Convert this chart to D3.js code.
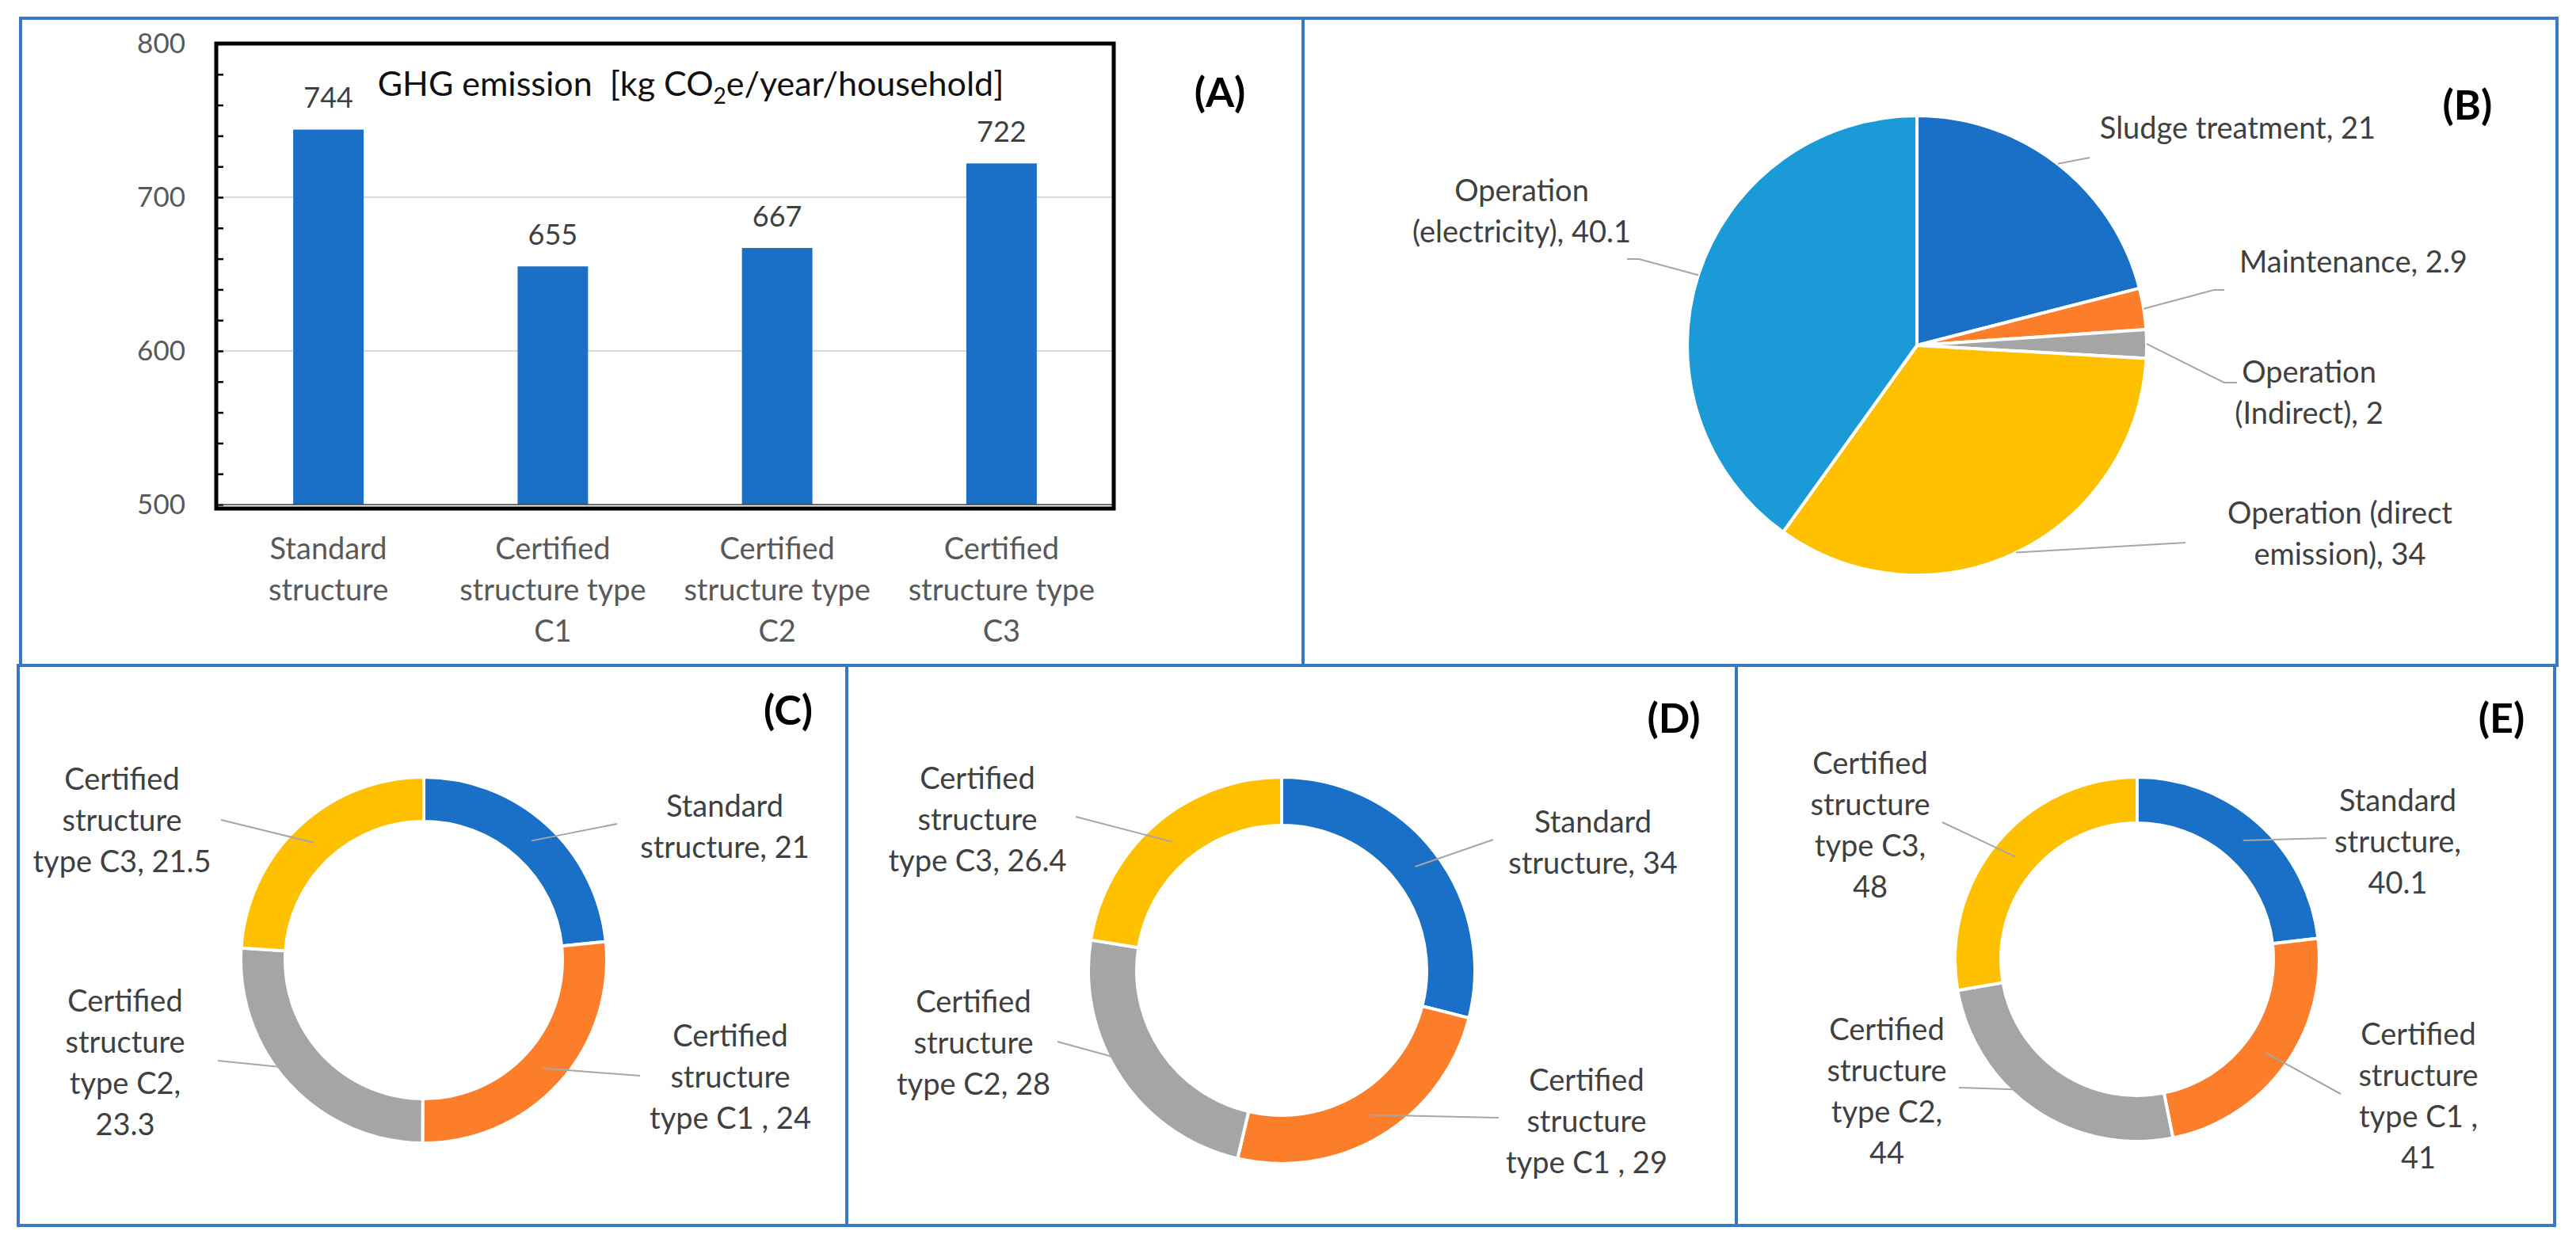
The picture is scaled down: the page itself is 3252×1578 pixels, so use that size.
<!DOCTYPE html>
<html>
<head>
<meta charset="utf-8">
<script src="https://cdn.jsdelivr.net/npm/d3@7"></script>
<style>
  html, body { margin: 0; padding: 0; background: #fff; }
  svg text { font-family: Lato, "Open Sans", sans-serif; }
</style>
</head>
<body>
<svg id="fig" width="3252" height="1578"></svg>
<script>
// ---- data ----
// (A) bar chart
var barCategories = ["Standard structure", "Certified structure type C1", "Certified structure type C2", "Certified structure type C3"];
var barValues = [744, 655, 667, 722];
var yTickValues = [500, 600, 700, 800];

// (B) pie
var pieCategories = ["Sludge treatment", "Maintenance", "Operation (Indirect)", "Operation (direct emission)", "Operation (electricity)"];
var pieValues = [21, 2.9, 2, 34, 40.1];

// (C), (D), (E) donuts
var structureNames = ["Standard structure", "Certified structure type C1 ", "Certified structure type C2", "Certified structure type C3"];
var donutC = [21, 24, 23.3, 21.5];
var donutD = [34, 29, 28, 26.4];
var donutE = [40.1, 41, 44, 48];

// ---- colours ----
var blue = "#1A6FC6", orange = "#FC7D2A", gray = "#A5A5A5", gold = "#FFC000", skyblue = "#1A9BD8";
var pieColors = [blue, orange, gray, gold, skyblue];
var donutColors = [blue, orange, gray, gold];
var frameColor = "#3B78C3", leaderColor = "#A6A6A6", labelColor = "#404040";

var svg = d3.select("#fig");

/* panel frames */
var panels = [
  {x0: 26, y0: 23, x1: 1645, y1: 840},
  {x0: 1645, y0: 23, x1: 3228, y1: 840},
  {x0: 23, y0: 840, x1: 1069, y1: 1547},
  {x0: 1069, y0: 840, x1: 2192, y1: 1547},
  {x0: 2192, y0: 840, x1: 3225, y1: 1547}
];
svg.append("g").selectAll("rect")
  .data(panels)
  .enter().append("rect")
    .attr("x", function(d) { return d.x0; })
    .attr("y", function(d) { return d.y0; })
    .attr("width", function(d) { return d.x1 - d.x0; })
    .attr("height", function(d) { return d.y1 - d.y0; })
    .attr("fill", "none")
    .attr("stroke", frameColor)
    .attr("stroke-width", 4);

/* multi-line text, words split per line by counts */
function multiLine(g, text, counts, x, y, lh, size, color) {
  var words = text.split(" "), lines = [], k = 0;
  counts.forEach(function(c) { lines.push(words.slice(k, k + c).join(" ")); k += c; });
  var t = g.append("text")
      .attr("text-anchor", "middle")
      .attr("fill", color)
      .attr("font-size", size);
  lines.forEach(function(l, i) {
    t.append("tspan").attr("x", x).attr("y", y + i * lh).attr("dy", "0.35em").text(l);
  });
  return t;
}

function panelTag(txt, x, y) {
  svg.append("text")
    .attr("x", x).attr("y", y).attr("dy", "0.35em")
    .attr("text-anchor", "middle")
    .attr("font-size", 52).attr("font-weight", "bold")
    .attr("fill", "#000")
    .text(txt);
}

/* ---------- (A) bar chart ---------- */
var plot = {left: 273, right: 1406, top: 55, bottom: 637, border: 642};

var x = d3.scaleBand()
    .domain(barCategories)
    .range([plot.left, plot.right])
    .paddingInner(0.686)
    .paddingOuter(0.343);

var y = d3.scaleLinear()
    .domain([500, 800])
    .range([plot.bottom, plot.top]);

var gA = svg.append("g");

// gridlines
gA.append("g").selectAll("line")
  .data(yTickValues.slice(1, -1))
  .enter().append("line")
    .attr("x1", plot.left).attr("x2", plot.right)
    .attr("y1", function(d) { return y(d); })
    .attr("y2", function(d) { return y(d); })
    .attr("stroke", "#D9D9D9").attr("stroke-width", 2);

// bars
gA.append("g").selectAll("rect")
  .data(barValues)
  .enter().append("rect")
    .attr("x", function(d, i) { return x(barCategories[i]); })
    .attr("y", function(d) { return y(d); })
    .attr("width", x.bandwidth())
    .attr("height", function(d) { return y(500) - y(d); })
    .attr("fill", blue);

// value labels
gA.append("g").selectAll("text")
  .data(barValues)
  .enter().append("text")
    .attr("x", function(d, i) { return x(barCategories[i]) + x.bandwidth() / 2; })
    .attr("y", function(d) { return y(d) - 40; })
    .attr("dy", "0.35em")
    .attr("text-anchor", "middle")
    .attr("font-size", 36)
    .attr("fill", labelColor)
    .text(function(d) { return d; });

// minor ticks (inside), every 20
gA.append("g")
    .attr("transform", "translate(" + plot.left + ",0)")
    .call(d3.axisRight(y).ticks(15).tickSize(9).tickFormat(""))
    .call(function(g) { g.select(".domain").remove(); })
    .selectAll("line").attr("stroke", "#000").attr("stroke-width", 2.5);

// y labels
var yAxis = gA.append("g")
    .attr("transform", "translate(" + plot.left + ",0)")
    .call(d3.axisLeft(y).tickValues(yTickValues).tickSize(0).tickPadding(39));
yAxis.select(".domain").remove();
yAxis.selectAll("text")
    .attr("font-family", null)
    .attr("font-size", 35)
    .attr("fill", "#595959");

// x axis line and category labels
gA.append("line")
    .attr("x1", plot.left).attr("x2", plot.right)
    .attr("y1", plot.bottom).attr("y2", plot.bottom)
    .attr("stroke", "#404040").attr("stroke-width", 1.5);

var xWraps = [[1, 1], [1, 2, 1], [1, 2, 1], [1, 2, 1]];
barCategories.forEach(function(c, i) {
  multiLine(gA, c, xWraps[i], x(c) + x.bandwidth() / 2, 693, 52, 38, "#595959");
});

// plot area border
gA.append("rect")
    .attr("x", plot.left).attr("y", plot.top)
    .attr("width", plot.right - plot.left)
    .attr("height", plot.border - plot.top)
    .attr("fill", "none")
    .attr("stroke", "#000").attr("stroke-width", 5);

// title
var title = gA.append("text")
    .attr("x", 872).attr("y", 106).attr("dy", "0.35em")
    .attr("text-anchor", "middle")
    .attr("font-size", 43)
    .attr("fill", "#111")
    .style("white-space", "pre");
title.append("tspan").text("GHG emission  [kg CO");
title.append("tspan").attr("font-size", 28).attr("dy", 10).text("2");
title.append("tspan").attr("dy", -10).text("e/year/household]");

panelTag("(A)", 1540, 117);

/* ---------- pies / donuts ---------- */
function drawPie(cfg, names, values, colors) {
  var g = svg.append("g").attr("transform", "translate(" + cfg.cx + "," + cfg.cy + ")");
  var arcs = d3.pie().sort(null).value(function(d) { return d; })(values);
  var arc = d3.arc().innerRadius(cfg.r0).outerRadius(cfg.r1);

  g.selectAll("path.slice")
    .data(arcs)
    .enter().append("path")
      .attr("class", "slice")
      .attr("d", arc)
      .attr("fill", function(d, i) { return colors[i]; })
      .attr("stroke", "#fff")
      .attr("stroke-width", 4);

  var leadR = cfg.r0 > 0 ? (cfg.r0 + cfg.r1) / 2 : cfg.r1;
  arcs.forEach(function(a, i) {
    var m = (a.startAngle + a.endAngle) / 2;
    var L = cfg.labels[i];
    var pts = [[leadR * Math.sin(m), -leadR * Math.cos(m)], [L.lx, L.ly]];
    if (L.h) pts.push([L.lx + L.h, L.ly]);
    g.append("path")
      .attr("d", d3.line()(pts))
      .attr("fill", "none")
      .attr("stroke", leaderColor)
      .attr("stroke-width", 2);
    multiLine(g, names[i] + ", " + values[i], L.w, L.tx, L.ty, 52, 38, labelColor);
  });
}

// label layout: text centre (tx, ty of first line), leader end (lx, ly), word counts per line
var layoutB = {cx: 2420, cy: 436, r0: 0, r1: 290, labels: [
  {tx: 405, ty: -274, lx: 218, ly: -237, w: [3]},
  {tx: 551, ty: -105, lx: 375, ly: -70, h: 13, w: [2]},
  {tx: 495, ty: 34, lx: 388, ly: 47, h: 16, w: [1, 2]},
  {tx: 534, ty: 212, lx: 339, ly: 249, w: [2, 2]},
  {tx: -499, ty: -195, lx: -351, ly: -109, h: -15, w: [1, 2]}
]};
var layoutC = {cx: 535, cy: 1212, r0: 175, r1: 231, labels: [
  {tx: 380, ty: -194, lx: 244, ly: -172, w: [1, 2]},
  {tx: 387, ty: 96, lx: 273, ly: 146, w: [1, 1, 4]},
  {tx: -377, ty: 52, lx: -260, ly: 127, w: [1, 1, 2, 1]},
  {tx: -381, ty: -228, lx: -256, ly: -177, w: [1, 1, 3]}
]};
var layoutD = {cx: 1618, cy: 1225, r0: 183, r1: 244, labels: [
  {tx: 393, ty: -187, lx: 267, ly: -165, w: [1, 2]},
  {tx: 385, ty: 139, lx: 274, ly: 186, w: [1, 1, 4]},
  {tx: -389, ty: 40, lx: -283, ly: 90, w: [1, 1, 3]},
  {tx: -384, ty: -242, lx: -260, ly: -194, w: [1, 1, 3]}
]};
var layoutE = {cx: 2698, cy: 1211, r0: 172, r1: 230, labels: [
  {tx: 329, ty: -200, lx: 239, ly: -153, w: [1, 1, 1]},
  {tx: 355, ty: 95, lx: 257, ly: 170, w: [1, 1, 3, 1]},
  {tx: -316, ty: 89, lx: -225, ly: 162, w: [1, 1, 2, 1]},
  {tx: -337, ty: -247, lx: -246, ly: -173, w: [1, 1, 2, 1]}
]};

drawPie(layoutB, pieCategories, pieValues, pieColors);
drawPie(layoutC, structureNames, donutC, donutColors);
drawPie(layoutD, structureNames, donutD, donutColors);
drawPie(layoutE, structureNames, donutE, donutColors);

panelTag("(B)", 3115, 133);
panelTag("(C)", 995, 897);
panelTag("(D)", 2113, 907);
panelTag("(E)", 3158, 907);
</script>
</body>
</html>
